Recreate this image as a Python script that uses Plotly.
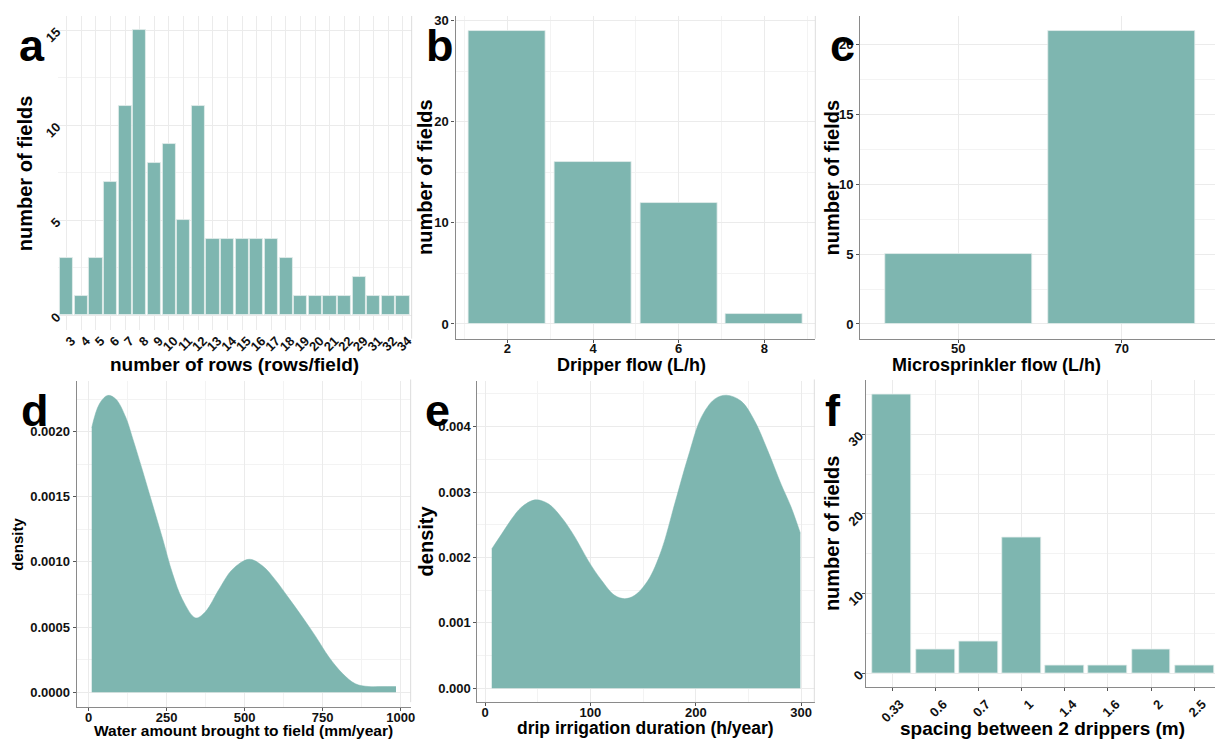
import plotly.graph_objects as go

W, H = 1219, 744

# ---------------- data ----------------
a_rows = ['3', '4', '5', '6', '7', '8', '9', '10', '11', '12', '13', '14', '15', '16',
          '17', '18', '19', '20', '21', '22', '29', '31', '32', '34']
a_counts = [3, 1, 3, 7, 11, 15, 8, 9, 5, 11, 4, 4, 4, 4, 4, 3, 1, 1, 1, 1, 2, 1, 1, 1]

b_flow = [2, 4, 6, 8]
b_counts = [29, 16, 12, 1]

c_flow = ['50', '70']
c_counts = [5, 21]

d_water = [10, 34, 61, 87, 119, 141, 173, 205, 237, 269, 301, 343, 375, 418, 460, 514,
           557, 599, 642, 684, 727, 770, 813, 855, 898, 940, 985]
d_density = [0.00203, 0.00221, 0.002278, 0.00225, 0.00211, 0.00195, 0.0017, 0.00144,
             0.00118, 0.00091, 0.00071, 0.00057, 0.00062, 0.00079, 0.00094, 0.00102,
             0.00097, 0.00086, 0.00072, 0.00058, 0.00043, 0.00027, 0.000145, 0.000064,
             0.000043, 0.000043, 0.000043]

e_duration = [6.3, 15.8, 25.3, 34.7, 47.4, 60, 72.6, 85.3, 97.9, 110.5, 123, 132.6, 142,
              154.7, 167.4, 180, 192.6, 205.2, 217.9, 229, 243, 255.8, 268.4, 281, 290.5, 299.3]
e_density = [0.00213, 0.00236, 0.00259, 0.00277, 0.00288, 0.00282, 0.00261, 0.00231,
             0.00195, 0.00165, 0.00142, 0.00137, 0.00142, 0.00165, 0.00211, 0.00282,
             0.00353, 0.00414, 0.00442, 0.00448, 0.00439, 0.00409, 0.00363, 0.00312,
             0.00277, 0.00237]

f_spacing = ['0.33', '0.6', '0.7', '1', '1.4', '1.6', '2', '2.5']
f_counts = [35, 3, 4, 17, 1, 1, 3, 1]

# ---------------- style ----------------
TEAL = '#7eb6b0'
EDGE = '#e4eeec'
FONT = 'Liberation Sans, Arial, sans-serif'
GRID = '#ebebeb'
MINOR = '#f3f3f3'
AXIS = '#8a8a8a'


def px_x(p):
    return p / W


def px_y(p):
    return 1 - p / H


fig = go.Figure()

fig.add_trace(go.Bar(x=a_rows, y=a_counts, width=0.9, marker=dict(color=TEAL, line=dict(color=EDGE, width=0.8)),
                     xaxis='x', yaxis='y', showlegend=False))
fig.add_trace(go.Bar(x=b_flow, y=b_counts, width=1.8, marker=dict(color=TEAL, line=dict(color=EDGE, width=0.8)),
                     xaxis='x2', yaxis='y2', showlegend=False))
fig.add_trace(go.Bar(x=c_flow, y=c_counts, width=0.9, marker=dict(color=TEAL, line=dict(color=EDGE, width=0.8)),
                     xaxis='x3', yaxis='y3', showlegend=False))
fig.add_trace(go.Scatter(x=d_water, y=d_density, mode='lines', line=dict(color=TEAL, width=0.5, shape='spline', smoothing=1.0),
                         fill='tozeroy', fillcolor=TEAL, xaxis='x4', yaxis='y4', showlegend=False))
fig.add_trace(go.Scatter(x=e_duration, y=e_density, mode='lines', line=dict(color=TEAL, width=0.5, shape='spline', smoothing=1.0),
                         fill='tozeroy', fillcolor=TEAL, xaxis='x5', yaxis='y5', showlegend=False))
fig.add_trace(go.Bar(x=f_spacing, y=f_counts, width=0.9, marker=dict(color=TEAL, line=dict(color=EDGE, width=0.8)),
                     xaxis='x6', yaxis='y6', showlegend=False))


def axis(domain, rng, anchor, axisline=True, ticks=True, tickangle=0, size=13, typ=None,
         dtick=None, tick0=None, minor_dtick=None, tickformat=None, grid=True, cats=None,
         standoff=None, shift=None):
    d = dict(domain=domain, range=rng, anchor=anchor, showgrid=grid, gridcolor=GRID, gridwidth=1,
             zeroline=False, showline=axisline, linecolor=AXIS, linewidth=1.2,
             ticks='outside' if ticks else '', ticklen=3, tickcolor='#555',
             tickangle=tickangle,
             tickfont=dict(family=FONT, size=size, color='#111', weight='bold'))
    if typ:
        d['type'] = typ
    if cats is not None:
        d['tickmode'] = 'array'
        d['tickvals'] = cats
        d['ticktext'] = cats
    if dtick is not None:
        d['dtick'] = dtick
        d['tick0'] = tick0 if tick0 is not None else 0
    if minor_dtick is not None:
        d['minor'] = dict(dtick=minor_dtick, tick0=0, showgrid=True, gridcolor=MINOR, gridwidth=0.8, ticks='')
    if tickformat:
        d['tickformat'] = tickformat
    if standoff is not None:
        d['ticklabelstandoff'] = standoff
    if shift is not None:
        d['ticklabelshift'] = shift
    return d


layout = dict(width=W, height=H, margin=dict(l=0, r=0, t=0, b=0), paper_bgcolor='white',
              plot_bgcolor='white', bargap=0, font=dict(family=FONT, color='#000'))

# panel a
layout['xaxis'] = axis([px_x(58), px_x(413)], [-0.6, 23.6], 'y', axisline=False, ticks=False,
                       tickangle=-45, size=13, typ='category', cats=a_rows, shift=5)
layout['yaxis'] = axis([px_y(328), px_y(13)], [-0.75, 15.75], 'x', axisline=False, ticks=False,
                       tickangle=-45, size=13, dtick=5, minor_dtick=2.5)
# panel b
layout['xaxis2'] = axis([px_x(457), px_x(818)], [0.79, 9.19], 'y2', dtick=2, minor_dtick=1, standoff=-5)
layout['yaxis2'] = axis([px_y(337), px_y(13)], [-1.45, 30.45], 'x2', dtick=10, minor_dtick=5)
# panel c
layout['xaxis3'] = axis([px_x(863), 1.0], [-0.6, 1.57], 'y3', typ='category', cats=c_flow, standoff=-5)
layout['yaxis3'] = axis([px_y(337), px_y(13)], [-1.05, 22.05], 'x3', dtick=5, minor_dtick=2.5)
# panel d
layout['xaxis4'] = axis([px_x(77), px_x(412)], [-38, 1032], 'y4', dtick=250, minor_dtick=125, standoff=-5)
layout['yaxis4'] = axis([px_y(707), px_y(380)], [-0.000115, 0.002385], 'x4', dtick=0.0005,
                        minor_dtick=0.00025, tickformat='.4f')
# panel e
layout['xaxis5'] = axis([px_x(479), px_x(818)], [-7.3, 313.5], 'y5', dtick=100, minor_dtick=50, standoff=-5)
layout['yaxis5'] = axis([px_y(702), px_y(380)], [-0.000213, 0.00469], 'x5', dtick=0.001,
                        minor_dtick=0.0005, tickformat='.3f')
# panel f
layout['xaxis6'] = axis([px_x(869), 1.0], [-0.6, 7.48], 'y6', tickangle=-45, size=13, typ='category',
                        cats=f_spacing, shift=8)
layout['yaxis6'] = axis([px_y(687), px_y(379)], [-1.75, 36.75], 'x6', tickangle=-45, size=13,
                        dtick=10, minor_dtick=5)

fig.update_layout(**layout)

# axis titles (as paper annotations)
titles = [
    ('number of fields', 25, 171, 20, -90),
    ('number of rows (rows/field)', 235, 363, 19, 0),
    ('number of fields', 427, 175, 20, -90),
    ('Dripper flow (L/h)', 634, 363, 18, 0),
    ('number of fields', 835, 175, 20, -90),
    ('Microsprinkler flow (L/h)', 1000, 363, 18, 0),
    ('density', 18, 543, 15, -90),
    ('Water amount brought to field (mm/year)', 244, 730, 15.5, 0),
    ('density', 427, 540, 20, -90),
    ('drip irrigation duration (h/year)', 648, 728, 17.5, 0),
    ('number of fields', 835, 532, 20, -90),
    ('spacing between 2 drippers (m)', 1046, 728, 19, 0),
]
for txt, x, y, s, ang in titles:
    fig.add_annotation(text=txt, x=px_x(x), y=px_y(y), xref='paper', yref='paper', showarrow=False,
                       xanchor='center', yanchor='middle', textangle=ang,
                       font=dict(family=FONT, size=s, color='#000', weight='bold'))

# panel letters
letters = [('a', 32, 43), ('b', 441, 43), ('c', 845, 43), ('d', 35, 409), ('e', 439, 409), ('f', 836, 409)]
for t, x, y in letters:
    fig.add_annotation(text=t, x=px_x(x), y=px_y(y), xref='paper', yref='paper', showarrow=False,
                       xanchor='center', yanchor='middle',
                       font=dict(family=FONT, size=45, color='#000', weight='bold'))

# faint panel edge lines
for x0, y0, y1 in [(413, 13, 337), (818, 13, 337), (412, 378, 702), (817, 378, 702)]:
    fig.add_shape(type='line', xref='paper', yref='paper', x0=px_x(x0), x1=px_x(x0), y0=px_y(y0), y1=px_y(y1),
                  line=dict(color='#dddddd', width=1))

fig.write_html('out.html', config={'displayModeBar': False},
               post_script="document.body.style.margin='0';document.body.style.overflow='hidden';")
